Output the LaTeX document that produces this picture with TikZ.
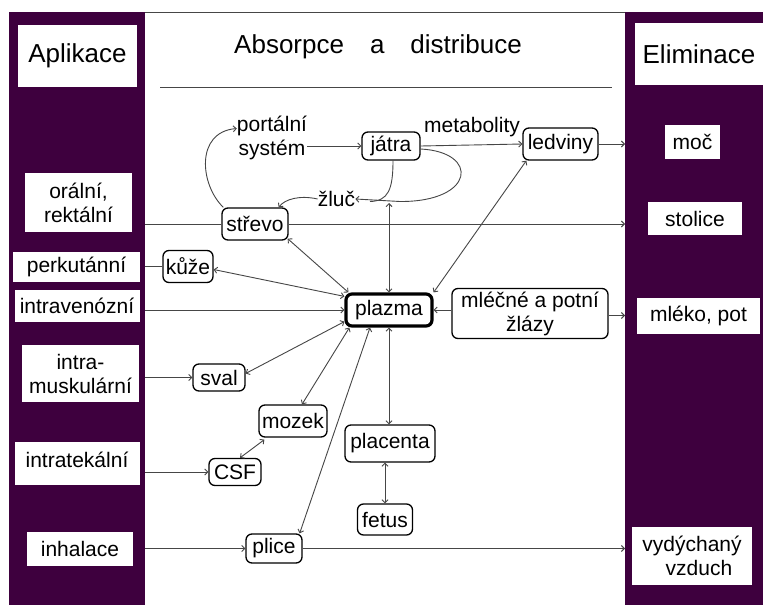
\documentclass[tikz,border=0pt]{standalone}
\usepackage{fontspec}
\setmainfont{Liberation Sans}
\usetikzlibrary{arrows.meta}
\definecolor{purp}{RGB}{62,0,62}
\definecolor{lnc}{RGB}{70,70,70}
\begin{document}
\begin{tikzpicture}[x=1pt,y=-1pt,
  nf/.style={font=\fontsize{21}{24}\selectfont},
  hf/.style={font=\fontsize{26}{28}\selectfont},
  colbox/.style={fill=white,draw=none,align=center,inner sep=0pt,nf},
  organ/.style={draw=black,line width=1.3pt,rounded corners=6pt,fill=white,align=center,inner sep=1pt,nf},
  lbl/.style={align=center,inner sep=0pt,nf},
  conn/.style={draw=lnc,line width=0.9pt},
  tip/.style={-{Straight Barb[length=3pt,width=6pt]}},
  btip/.style={{Straight Barb[length=3pt,width=6pt]}-{Straight Barb[length=3pt,width=6pt]}},
  rtip/.style={{Straight Barb[length=3pt,width=6pt]}-}]
\useasboundingbox (0,0) rectangle (763,605);
\fill[white] (0,0) rectangle (763,605);
% columns
\fill[purp] (9,12) rectangle (145,605);
\fill[purp] (625,12) rectangle (763,605);
\draw[lnc,line width=1pt] (145,12.5) -- (625,12.5);
\draw[lnc,line width=1pt] (160,87) -- (612,87);
\coordinate (Lcol) at (145,0);
\coordinate (Rcol) at (625,0);
% title
\node[hf,inner sep=0pt] (title) at (378,47) {Absorpce\hspace{26pt}a\hspace{26pt}distribuce};
% left boxes
\node[colbox,hf,minimum width=119pt,minimum height=62pt] (apl) at (77.5,56) {Aplikace};
\node[colbox,minimum width=107pt,minimum height=59pt] (oral) at (78.5,202.5) {orální,\\rektální};
\node[colbox,minimum width=127pt,minimum height=30pt] (perk) at (76.5,267) {perkutánní};
\node[colbox,minimum width=125pt,minimum height=32pt] (iv) at (77,306) {intravenózní};
\node[colbox,minimum width=117pt,minimum height=57pt] (im) at (80.5,373.5) {intra-\\muskulární};
\node[colbox,minimum width=125pt,minimum height=43pt,text depth=8pt] (it) at (77,463.5) {intratekální};
\node[colbox,minimum width=106pt,minimum height=34pt] (inh) at (80,549) {inhalace};
% right boxes
\node[colbox,hf,minimum width=128pt,minimum height=62pt] (elim) at (699,54) {Eliminace};
\node[colbox,minimum width=55pt,minimum height=34pt] (moc) at (692.5,142) {moč};
\node[colbox,minimum width=94pt,minimum height=33pt] (stol) at (695,218.5) {stolice};
\node[colbox,minimum width=123pt,minimum height=36pt] (mleko) at (698.5,315.5) {mléko, pot};
\node[colbox,minimum width=120pt,minimum height=58pt] (vyd) at (692,556) {vydýchaný\\\hspace{14pt}vzduch};
% organs
\node[lbl] (portal) at (272,137.5) {portální\\systém};
\node[organ,minimum width=58pt,minimum height=28pt] (jatra) at (391,146) {játra};
\node[lbl] (metab) at (472,127) {metabolity};
\node[organ,minimum width=75pt,minimum height=32pt] (ledv) at (560.5,144) {ledviny};
\node[lbl] (zluc) at (336.5,199) {žluč};
\node[organ,minimum width=66pt,minimum height=32pt] (strevo) at (255,224) {střevo};
\node[organ,minimum width=50pt,minimum height=32pt] (kuze) at (188,266.5) {kůže};
\node[organ,line width=3.2pt,minimum width=86pt,minimum height=32pt] (plazma) at (389,310) {plazma};
\node[organ,minimum width=156pt,minimum height=50pt] (mlec) at (530,313.5) {mléčné a potní\\žlázy};
\node[organ,minimum width=52pt,minimum height=27pt] (sval) at (219,377.5) {sval};
\node[organ,minimum width=68pt,minimum height=32pt] (mozek) at (293,421) {mozek};
\node[organ,minimum width=52pt,minimum height=27pt] (csf) at (235,472) {CSF};
\node[organ,minimum width=90pt,minimum height=37pt] (plac) at (390,443.5) {placenta};
\node[organ,minimum width=55pt,minimum height=31pt] (fetus) at (385,519.5) {fetus};
\node[organ,minimum width=56pt,minimum height=29pt] (plice) at (274,548.5) {plice};
\coordinate (jz) at (389,203);
% connectors
\draw[conn,tip] (portal.east |- jatra.west) -- (jatra.west);
\draw[conn,tip] ([xshift=2pt]strevo.north west) .. controls (200,185) and (195,132) .. ([yshift=9pt]portal.west);
\draw[conn,tip] (jatra.east) -- (ledv.west);
\draw[conn,tip] (ledv.east) -- (Rcol |- ledv.east);
\draw[conn] ([xshift=2pt]jatra.south) .. controls (393,190) and (388,201) .. (370,201.5);
\draw[conn,tip] ([yshift=-3pt]jatra.east) .. controls (480,152) and (475,202) .. (400,201.5) -- (zluc.east);
\draw[conn,tip] (zluc.west) .. controls (300,195) and (285,199) .. ([xshift=-10pt]strevo.north east);
\draw[conn] (Lcol |- strevo.west) -- (strevo.west);
\draw[conn,tip] (strevo.east) -- (Rcol |- strevo.east);
\draw[conn,btip] (plazma.north) -- (jz);
\draw[conn,btip] (plazma.north east) -- ([xshift=4pt]ledv.south west);
\draw[conn,btip] ([xshift=4pt]plazma.north west) -- ([xshift=-1pt,yshift=2pt]strevo.south east);
\draw[conn,btip] ([yshift=-4pt]plazma.north west) -- ([yshift=-3pt]kuze.east);
\draw[conn] (Lcol |- kuze.west) -- (kuze.west);
\draw[conn,tip] (Lcol |- plazma.west) -- (plazma.west);
\draw[conn,rtip] (plazma.east) -- (mlec.west |- plazma.east);
\draw[conn,tip] (mlec.east |- mleko.west) -- (Rcol |- mleko.west);
\draw[conn,btip] ([yshift=6pt]plazma.south west) -- ([yshift=4pt]sval.east);
\draw[conn,tip] (Lcol |- sval.west) -- (sval.west);
\draw[conn,btip] ([xshift=5pt]plazma.south west) -- ([xshift=9pt]mozek.north);
\draw[conn,btip] ([xshift=6pt,yshift=-2pt]mozek.south west) -- ([xshift=5pt]csf.north);
\draw[conn,tip] (Lcol |- csf.west) -- (csf.west);
\draw[conn,btip] ([xshift=-19pt]plazma.south) -- ([xshift=-3pt]plice.north east);
\draw[conn,tip] (Lcol |- plice.west) -- (plice.west);
\draw[conn,tip] (plice.east) -- (Rcol |- plice.east);
\draw[conn,btip] (plazma.south) -- (plazma.south |- plac.north);
\draw[conn,btip] (fetus.north |- plac.south) -- (fetus.north);
\end{tikzpicture}
\end{document}
